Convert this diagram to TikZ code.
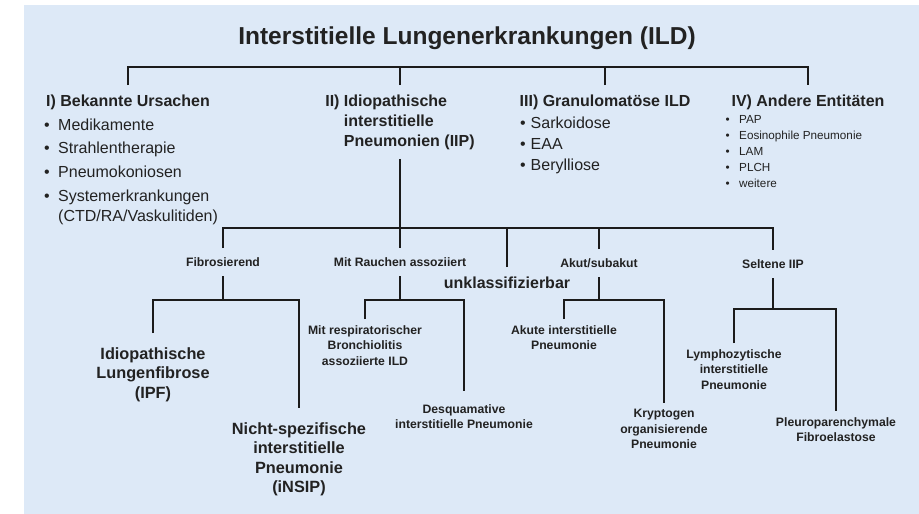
\documentclass[tikz,border=0pt]{standalone}
\usepackage{fontspec}
\setmainfont{Liberation Sans}
\definecolor{bgblue}{RGB}{221,233,247}
\definecolor{ink}{RGB}{34,34,34}
\newcommand{\fsize}[2]{\fontsize{#1}{#2}\selectfont}
\newcommand{\bul}[1]{\makebox[#1][l]{\textbullet}}
\tikzset{link/.style={color=#1,line width=1.8pt},link/.default=ink!80!black}
\tikzset{title/.style={color=ink,font=\bfseries\fsize{24.5}{29}}}
\tikzset{heading/.style={color=ink,font=\bfseries\fsize{16}{20},align=left,inner xsep=0pt,inner ysep=9.3pt,anchor=north}}
\tikzset{items/.style={color=ink,align=left,inner sep=0pt,anchor=north west}}
\tikzset{sub/.style={color=ink,font=\bfseries\fsize{12.2}{15},inner xsep=0pt,inner ysep=9.5pt,anchor=north}}
\tikzset{leaf/.style={color=ink,font=\bfseries\fsize{12.2}{15.5},align=center,inner xsep=0pt,inner ysep=6pt,anchor=north}}
\tikzset{bigleaf/.style={color=ink,font=\bfseries\fsize{16.3}{19.6},align=center,inner xsep=0pt,inner ysep=14pt,anchor=north}}

\begin{document}
\begin{tikzpicture}[x=1pt,y=-1pt]

	% Rahmen und Hintergrund
	\useasboundingbox (0,0) rectangle (919,514);
	\fill [bgblue] (24,5) rectangle (919,514);

	% Titel
	\node [title] (ild) at (467,38.5) {Interstitielle Lungenerkrankungen (ILD)};

	% Die vier Hauptgruppen
	\node [heading] (bekannt) at (128,85) {I) Bekannte Ursachen};
	\node [heading] (iip) at (400,85) {II) Idiopathische\\
		\hphantom{II) }interstitielle\\\hphantom{II) }Pneumonien (IIP)};
	\node [heading] (granulom) at (605,85) {III) Granulomatöse ILD};
	\node [heading] (andere) at (808,85) {IV) Andere Entitäten};

	% Die Aufzählungen unter I), III) und IV)
	\node [items,font=\fsize{16}{23.8}] (ursachen) at (44,118.3)
		{\bul{14pt}Medikamente\\\bul{14pt}Strahlentherapie\\
		 \bul{14pt}Pneumokoniosen\\\bul{14pt}Systemerkrankungen\\[-3.8pt]
		 \hspace*{14pt}(CTD/RA/Vaskulitiden)};
	\node [items,font=\fsize{16}{21}] (granulome) at (520,116.5)
		{\bul{10.5pt}Sarkoidose\\\bul{10.5pt}EAA\\\bul{10.5pt}Berylliose};
	\node [items,font=\fsize{11.7}{16}] (entitaeten) at (725.5,115.5)
		{\bul{13.5pt}PAP\\\bul{13.5pt}Eosinophile Pneumonie\\
		 \bul{13.5pt}LAM\\\bul{13.5pt}PLCH\\\bul{13.5pt}weitere};

	% Die Untergruppen der IIP
	\node [sub] (fibros) at (223,248) {Fibrosierend};
	\node [sub] (rauchen) at (400,248) {Mit Rauchen assoziiert};
	\node [sub,font=\bfseries\fsize{16}{19}] (unklass) at (507,267) {unklassifizierbar};
	\node [sub] (akut) at (599,249) {Akut/subakut};
	\node [sub] (selten) at (773,250) {Seltene IIP};

	% Die einzelnen Krankheitsbilder
	\node [bigleaf] (ipf) at (153,333) {Idiopathische\\Lungenfibrose\\(IPF)};
	\node [bigleaf] (nsip) at (299,408)
		{Nicht-spezifische\\interstitielle\\Pneumonie\\(iNSIP)};
	\node [leaf] (rbild) at (365,319)
		{Mit respiratorischer\\Bronchiolitis\\assoziierte ILD};
	\node [leaf,inner ysep=13pt] (dip) at (464,391)
		{Desquamative\\interstitielle Pneumonie};
	\node [leaf] (aip) at (564,319) {Akute interstitielle\\Pneumonie};
	\node [leaf] (cop) at (664,403) {Kryptogen\\organisierende\\Pneumonie};
	\node [leaf] (lip) at (734,343)
		{Lymphozytische\\interstitielle\\Pneumonie};
	\node [leaf] (ppfe) at (836,411) {Pleuroparenchymale\\Fibroelastose};

	% Höhen der Klammern
	\coordinate (top bar)      at (0,67);
	\coordinate (iip joint)    at (iip.south |- 0,228);
	\coordinate (fib joint)    at (fibros.south |- 0,300);
	\coordinate (rauch joint)  at (rauchen.south |- 0,300);
	\coordinate (akut joint)   at (akut.south |- 0,300);
	\coordinate (selten joint) at (selten.south |- 0,309);

	% Obere Klammer
	\draw [link] (bekannt.north) |- (andere.north |- top bar) -- (andere.north);
	\draw [link] (iip.north) -- (iip.north |- top bar);
	\draw [link] (granulom.north) -- (granulom.north |- top bar);

	% Klammer der IIP
	\draw [link] (iip.south) -- (iip joint) -- (rauchen.north);
	\draw [link] (fibros.north) |- (iip joint) -| (selten.north);
	\draw [link] (unklass.north) -- (unklass.north |- iip joint);
	\draw [link] (akut.north) -- (akut.north |- iip joint);

	% Fibrosierend
	\draw [link] (fibros.south) -- (fib joint);
	\draw [link] (ipf.north) |- (fib joint) -| (nsip.north);

	% Mit Rauchen assoziiert
	\draw [link] (rauchen.south) -- (rauch joint);
	\draw [link] (rbild.north) |- (rauch joint) -| (dip.north);

	% Akut/subakut
	\draw [link] (akut.south) -- (akut joint);
	\draw [link] (aip.north) |- (akut joint) -| (cop.north);

	% Seltene IIP
	\draw [link] (selten.south) -- (selten joint);
	\draw [link] (lip.north) |- (selten joint) -| (ppfe.north);

\end{tikzpicture}
\end{document}
